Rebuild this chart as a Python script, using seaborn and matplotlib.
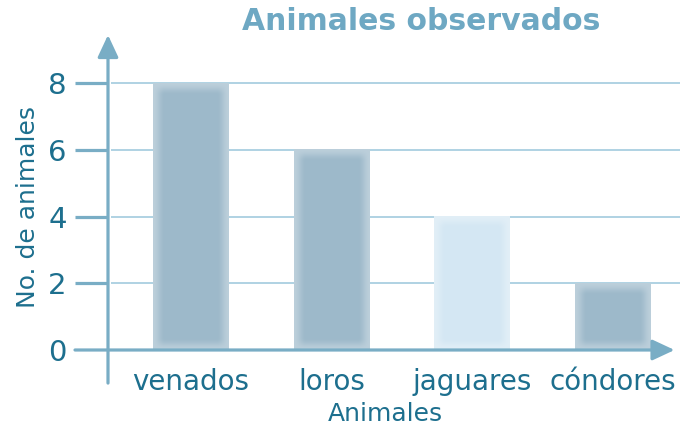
import numpy as np
import pandas as pd
import matplotlib
matplotlib.use("Agg")
import matplotlib.pyplot as plt
import seaborn as sns
from matplotlib.colors import to_rgb

# Data
categories = ["venados", "loros", "jaguares", "cóndores"]
values = [8, 6, 4, 2]
bar_colors = ["#9db9ca", "#9db9ca", "#d4e7f3", "#9db9ca"]
y_ticks = [0, 2, 4, 6, 8]

TEXT = "#1d6f8e"
TITLE = "#6ea8c3"
AXIS = "#79adc5"
GRID = "#a9cfe0"

sns.set_theme(style="white")
plt.rcParams["font.family"] = ["DejaVu Sans"]

df = pd.DataFrame({"animal": categories, "n": values})

fig = plt.figure(figsize=(6.8, 4.34), dpi=100, facecolor="white")
W, H = 680, 434
# axes spans from the tick stubs to the right edge, and from y=0 to the arrow tip
ax = fig.add_axes([75 / W, 1 - 350 / H, (680 - 75) / W, (350 - 35) / H])
ax.set_facecolor("white")

sns.barplot(data=df, x="animal", y="n", hue="animal", palette=bar_colors,
            width=0.54, legend=False, ax=ax, zorder=3, saturation=1)

ax.set_xlim(-0.825, 3.476)
ax.set_ylim(0, 9.44)
for s in ax.spines.values():
    s.set_visible(False)

fig.canvas.draw()


def ramp(d, width=12.0):
    t = np.clip(d / width, 0, 1)
    return t * t * (3 - 2 * t)


# soft inner glow: lighter band along the bar edges
for p, c in zip(ax.patches, bar_colors):
    x0, y0, w, h = p.get_x(), p.get_y(), p.get_width(), p.get_height()
    (px0, py0) = ax.transData.transform((x0, y0))
    (px1, py1) = ax.transData.transform((x0 + w, y0 + h))
    wp, hp = int(round(px1 - px0)), int(round(py1 - py0))
    xs = np.arange(wp) + 0.5
    ys = np.arange(hp) + 0.5
    tx = ramp(np.minimum(xs, wp - xs))[None, :]
    ty = ramp(np.minimum(ys, hp - ys))[:, None]
    t = 0.25 + 0.75 * (tx * ty)
    core = np.array(to_rgb(c))
    edge = core + (1 - core) * 0.42
    img = edge[None, None, :] * (1 - t[..., None]) + core[None, None, :] * t[..., None]
    ax.imshow(img, extent=[x0, x0 + w, y0, y0 + h], aspect="auto",
              interpolation="none", zorder=3.5, origin="lower")
    p.set_visible(False)

ax.set_xlim(-0.825, 3.476)
ax.set_ylim(0, 9.44)

# gridlines and tick stubs
axis_frac = (108 - 75) / (680 - 75)
for yv in y_ticks[1:]:
    ax.plot([axis_frac + 0.005, 1.0], [yv, yv], transform=ax.get_yaxis_transform(),
            color=GRID, lw=1.3, zorder=1, clip_on=False, solid_capstyle="butt")
    ax.plot([0, axis_frac], [yv, yv], transform=ax.get_yaxis_transform(),
            color=AXIS, lw=2.3, zorder=4, clip_on=False, solid_capstyle="butt")

arrow = dict(arrowstyle="-|>,head_length=0.75,head_width=0.35",
             color=AXIS, lw=2.3, shrinkA=0, shrinkB=0, mutation_scale=18)
# x axis with arrow
ax.annotate("", xy=(0.991, 0), xytext=(0, 0),
            xycoords=("axes fraction", "data"), textcoords=("axes fraction", "data"),
            arrowprops=arrow, annotation_clip=False, zorder=5)
# y axis with arrow
ax.annotate("", xy=(axis_frac, 1.0), xytext=(axis_frac, -0.105),
            xycoords="axes fraction", textcoords="axes fraction",
            arrowprops=arrow, annotation_clip=False, zorder=5)

ax.set_yticks(y_ticks)
ax.set_yticklabels([str(v) for v in y_ticks])
ax.tick_params(axis="y", length=0, pad=6, labelsize=21, labelcolor=TEXT)
ax.tick_params(axis="x", length=0, pad=13, labelsize=20, labelcolor=TEXT)
ax.set_xlabel("")
ax.set_ylabel("")

fig.text(385 / W, 1 - 414 / H, "Animales", ha="center", va="center",
         fontsize=18, color=TEXT)
fig.text(28 / W, 1 - 207 / H, "No. de animales", ha="center", va="center",
         rotation=90, fontsize=18, color=TEXT)
fig.text(421 / W, 1 - 22 / H, "Animales observados", ha="center", va="center",
         fontsize=21.5, fontweight="bold", color=TITLE)

fig.savefig("out.png", dpi=100, facecolor="white")
